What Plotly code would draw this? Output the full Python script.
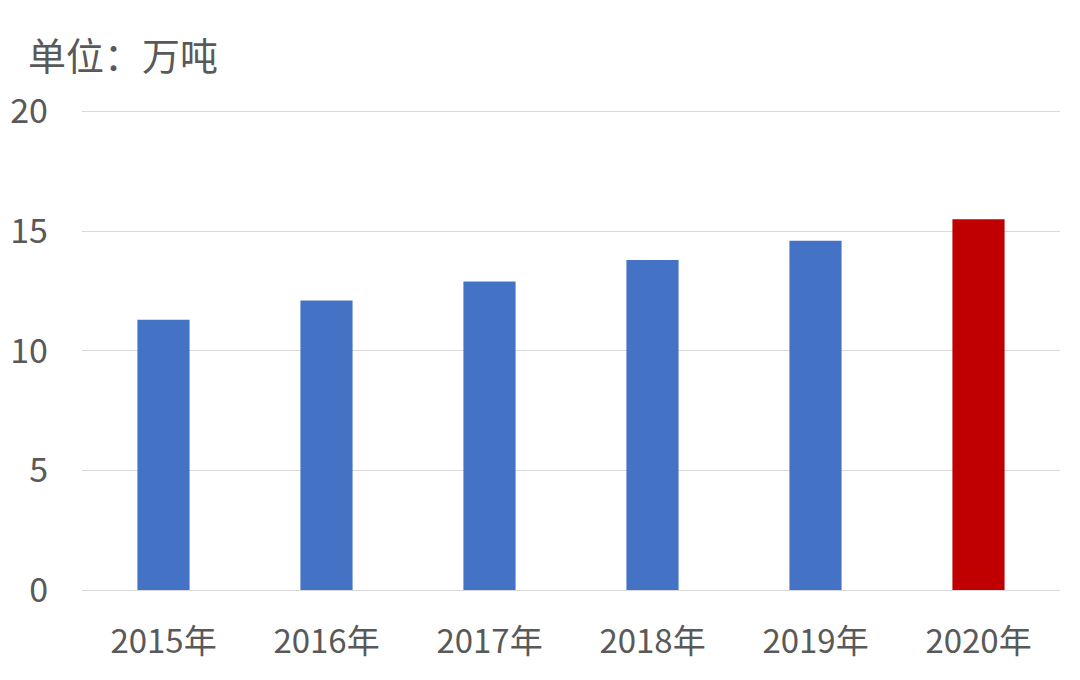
import plotly.graph_objects as go

years = ['2015年', '2016年', '2017年', '2018年', '2019年', '2020年']
values = [11.3, 12.1, 12.9, 13.8, 14.6, 15.5]
bar_colors = ['#4472C4', '#4472C4', '#4472C4', '#4472C4', '#4472C4', '#C00000']

font_family = 'Noto Sans CJK SC, Microsoft YaHei, sans-serif'

fig = go.Figure()

fig.add_trace(
    go.Bar(
        x=years,
        y=values,
        marker=dict(color=bar_colors, line=dict(width=0)),
        width=0.32,
    )
)

fig.update_layout(
    width=1080,
    height=680,
    paper_bgcolor='white',
    plot_bgcolor='white',
    showlegend=False,
    margin=dict(l=74, r=28, t=100, b=98),
    font=dict(family=font_family, color='#595959', size=33),
    annotations=[
        dict(
            text='单位：万吨',
            xref='paper', yref='paper',
            x=-0.057, y=1.0,
            xanchor='left', yanchor='bottom',
            yshift=25,
            showarrow=False,
            font=dict(size=38, color='#595959', family=font_family),
        )
    ],
)

fig.update_yaxes(
    range=[0, 20.15],
    tickvals=[0, 5, 10, 15, 20],
    showgrid=True,
    gridcolor='#D9D9D9',
    gridwidth=1.3,
    zeroline=False,
    showline=False,
    ticks='',
    automargin=False,
    ticklabelstandoff=33,
    tickfont=dict(size=34, color='#595959'),
)

fig.update_xaxes(
    showline=True,
    linecolor='#D9D9D9',
    linewidth=1.3,
    showgrid=False,
    ticks='',
    automargin=False,
    ticklabelstandoff=22,
    tickfont=dict(size=33, color='#595959'),
)

fig.write_html('out.html')
